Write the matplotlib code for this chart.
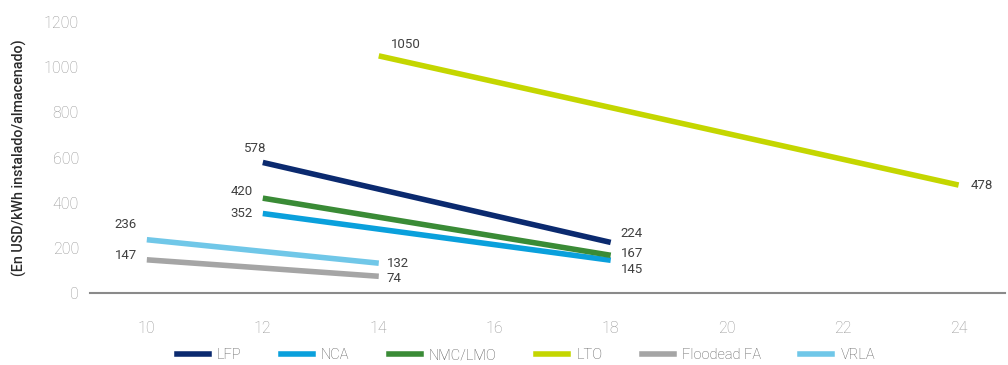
import matplotlib
matplotlib.use("Agg")
import matplotlib.pyplot as plt
from matplotlib.lines import Line2D

plt.rcParams['font.family'] = ['Roboto', 'DejaVu Sans']

# Series: (name, x-values, y-values, colour)
names = ["LFP", "NCA", "NMC/LMO", "LTO", "Floodead FA", "VRLA"]
x_start = [12, 12, 12, 14, 10, 10]
x_end = [18, 18, 18, 24, 14, 14]
y_start = [578, 352, 420, 1050, 147, 236]
y_end = [224, 145, 167, 478, 74, 132]
colors = ["#0b2a6f", "#0aa0dc", "#3a8b36", "#c4d600", "#a5a5a5", "#70c7e8"]

# Label offsets in pixels (start label, end label)
start_off = [(-8, 14), (-10, 0), (-10, 7), (12, 11), (-10, 4), (-10, 15)]
start_ha = ["center", "right", "right", "left", "right", "right"]
end_off = [(10, 9), (10, -9), (10, 2), (12, 0), (8, -2), (8, 0)]

xticks = [10, 12, 14, 16, 18, 20, 22, 24]
yticks = [0, 200, 400, 600, 800, 1000, 1200]

fig = plt.figure(figsize=(10.08, 3.65), dpi=100)
ax = fig.add_axes([90 / 1008, 1 - 293 / 365, 915 / 1008, 271 / 365])

for n, xs, xe, ys, ye, c, so, sh, eo in zip(names, x_start, x_end, y_start, y_end,
                                          colors, start_off, start_ha, end_off):
    ax.plot([xs, xe], [ys, ye], color=c, lw=4, solid_capstyle="butt", label=n)
    ax.annotate(f"{ys}", (xs, ys), xytext=(so[0] * 0.72, so[1] * 0.72),
                textcoords="offset points", ha=sh, va="center",
                fontsize=9.5, color="#404040")
    ax.annotate(f"{ye}", (xe, ye), xytext=(eo[0] * 0.72, eo[1] * 0.72),
                textcoords="offset points", ha="left", va="center",
                fontsize=9.5, color="#404040")

ax.set_xlim(9.02, 24.8)
ax.set_ylim(0, 1200)
ax.set_xticks(xticks)
ax.set_yticks(yticks)
ax.tick_params(axis="both", length=0, colors="#959595", labelsize=11.5)
for lbl in ax.get_xticklabels() + ax.get_yticklabels():
    lbl.set_fontweight("light")
ax.tick_params(axis="x", pad=20)
ax.tick_params(axis="y", pad=8)
for s in ["top", "right", "left"]:
    ax.spines[s].set_visible(False)
ax.spines["bottom"].set_color("#8a8a8a")
ax.spines["bottom"].set_linewidth(1.5)

ax.set_ylabel("(En USD/kWh instalado/almacenado)", fontsize=10.3, color="#2a2a2a",
              fontweight="medium")
ax.yaxis.set_label_coords(-63 / 915, 0.5)

handles = [Line2D([0], [0], color=c, lw=4) for c in colors]
leg = fig.legend(handles, names, loc="center", bbox_to_anchor=(526 / 1008, 1 - 355 / 365),
                 ncol=6, frameon=False, handlelength=2.2,
                 columnspacing=2.7, labelcolor="#555555", handletextpad=0.55,
                 prop={"size": 10.5, "weight": "light"})

fig.savefig("out.png", dpi=100)
